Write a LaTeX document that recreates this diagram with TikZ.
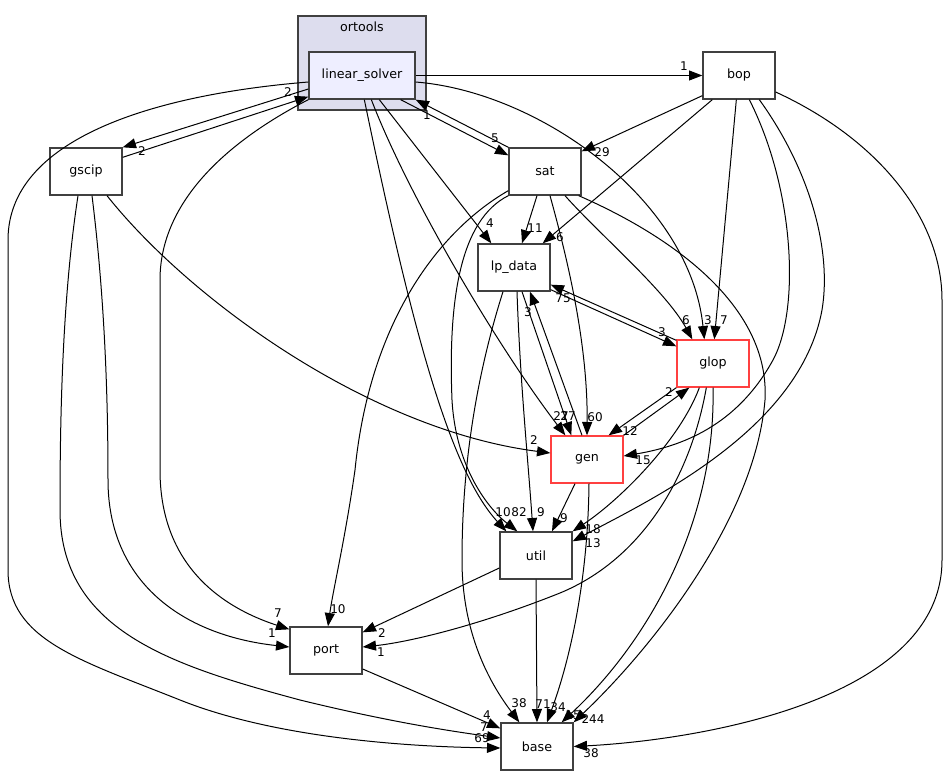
\documentclass[tikz,border=0pt]{standalone}
\usepackage{fontspec}
\setmainfont{DejaVu Sans}
\usetikzlibrary{arrows.meta}
\definecolor{boxgray}{HTML}{404040}
\definecolor{boxred}{HTML}{FF4040}
\definecolor{clusterfill}{HTML}{DDDDEE}
\definecolor{lsfill}{HTML}{EEEEFF}

\begin{document}
\begin{tikzpicture}[x=0.75pt,y=-0.75pt,>={Triangle[length=10pt,width=7.5pt]}]
                \tikzstyle{dirbox}=[draw=boxgray,line width=1pt,fill=white,minimum width=54pt,minimum height=35.25pt,inner sep=0pt,font=\fontsize{9.5}{11}\selectfont]
                \tikzstyle{redbox}=[dirbox,draw=boxred]
                \tikzstyle{dep}=[->,line width=0.75pt]
                \tikzstyle{cnt}=[inner sep=0pt,font=\fontsize{9}{10}\selectfont]
                \useasboundingbox (0,0) rectangle (947,777);
                \node[draw=boxgray,line width=1pt,fill=clusterfill,minimum width=96pt,minimum height=70.5pt] (ortools) at (362,63) {};
                \node[inner sep=0pt,font=\fontsize{9.5}{11}\selectfont] (ortoolslbl) at (362,27) {ortools};
                \node[dirbox,fill=lsfill,minimum width=79.5pt] (ls) at (362,75.5) {linear\_solver};
                \node[dirbox] (bop) at (739,75.5) {bop};
                \node[dirbox] (gscip) at (86,171.5) {gscip};
                \node[dirbox] (sat) at (545,171.5) {sat};
                \node[dirbox] (lpdata) at (514,267.5) {lp\_data};
                \node[redbox] (glop) at (713,363.5) {glop};
                \node[redbox] (gen) at (587,459.5) {gen};
                \node[dirbox] (util) at (536,555.5) {util};
                \node[dirbox] (port) at (326,650.5) {port};
                \node[dirbox] (base) at (537,746.5) {base};

                \draw[dep] (ls.east) -- (bop.west);
                \draw[dep] ([shift={(0,13.5)}]ls.west) -- (gscip.north east);
                \draw[dep] ([shift={(0,10)}]gscip.north east) -- ([shift={(0,-3)}]ls.south west);
                \draw[dep] ([shift={(-15,0)}]ls.south east) -- ([shift={(0,8)}]sat.north west);
                \draw[dep] (sat.north west) -- (ls.south east);
                \draw[dep] ([shift={(71,0)}]ls.south west) -- ([shift={(14,0)}]lpdata.north west);
                \draw[dep] ([shift={(63,0)}]ls.south west) .. controls (410,200) and (500,350) .. ([shift={(15,0)}]gen.north west);
                \draw[dep] ([shift={(0,6.5)}]ls.east) .. controls (540,92) and (690,200) .. ([shift={(28,0)}]glop.north west);
                \draw[dep] ([shift={(56,0)}]ls.south west) .. controls (412,330) and (450,470) .. ([shift={(7,0)}]util.north west);
                \draw[dep] (ls.south west) .. controls (230,140) and (160,200) .. (160,280) -- (160,470) .. controls (160,560) and (215,605) .. ([shift={(0,3)}]port.north west);
                \draw[dep] ([shift={(0,6.5)}]ls.west) .. controls (150,95) and (8,140) .. (8,240) -- (8,570) .. controls (8,640) and (80,660) .. (180,700) .. controls (280,740) and (420,747) .. ([shift={(0,1.5)}]base.west);

                \draw[dep] ([shift={(21,0)}]gscip.south) .. controls (190,300) and (370,430) .. ([shift={(0,-6.5)}]gen.west);
                \draw[dep] ([shift={(6,0)}]gscip.south) .. controls (105,300) and (108,400) .. (108,480) .. controls (108,580) and (180,635) .. ([shift={(0,-3.5)}]port.west);
                \draw[dep] ([shift={(-8,0)}]gscip.south) .. controls (62,300) and (60,420) .. (60,510) .. controls (60,630) and (170,665) .. (300,700) .. controls (390,722) and (450,731) .. ([shift={(0,-8.5)}]base.west);

                \draw[dep] ([shift={(0,-4)}]bop.south west) -- ([shift={(0,4)}]sat.north east);
                \draw[dep] ([shift={(10,0)}]bop.south west) -- ([shift={(-8,0)}]lpdata.north east);
                \draw[dep] ([shift={(34,0)}]bop.south west) -- ([shift={(38,0)}]glop.north west);
                \draw[dep] ([shift={(47,0)}]bop.south west) .. controls (795,190) and (800,310) .. (773,360) .. controls (740,420) and (690,445) .. ([shift={(0,-3.5)}]gen.east);
                \draw[dep] ([shift={(57,0)}]bop.south west) .. controls (810,170) and (832,250) .. (822,310) .. controls (800,430) and (650,500) .. ([shift={(0,10)}]util.north east);
                \draw[dep] ([shift={(0,16.5)}]bop.east) .. controls (880,140) and (942,220) .. (942,300) -- (942,560) .. controls (942,700) and (700,740) .. (base.east);

                \draw[dep] ([shift={(-8,0)}]sat.south) -- ([shift={(8,0)}]lpdata.north);
                \draw[dep] ([shift={(20,0)}]sat.south) .. controls (600,235) and (665,290) .. ([shift={(16,0)}]glop.north west);
                \draw[dep] ([shift={(5,0)}]sat.south) .. controls (565,250) and (588,340) .. (gen.north);
                \draw[dep] ([shift={(-3,0)}]sat.south east) .. controls (680,240) and (770,310) .. (765,400) .. controls (755,520) and (650,650) .. (base.north east);
                \draw[dep] ([shift={(0,-5)}]sat.south west) .. controls (440,230) and (370,320) .. (355,470) .. controls (345,540) and (333,590) .. ([shift={(2,0)}]port.north);
                \draw[dep] (sat.south west) .. controls (460,220) and (448,300) .. (452,400) .. controls (456,470) and (490,510) .. ([shift={(18,0)}]util.north west);

                \draw[dep] ([shift={(0,-2)}]lpdata.south east) -- ([shift={(0,7)}]glop.north west);
                \draw[dep] ([shift={(8,0)}]lpdata.south) -- ([shift={(21,0)}]gen.north west);
                \draw[dep] ([shift={(3,0)}]lpdata.south) .. controls (520,380) and (528,460) .. ([shift={(-3,0)}]util.north);
                \draw[dep] ([shift={(-11,0)}]lpdata.south) .. controls (475,380) and (462,470) .. (462,560) .. controls (462,640) and (495,690) .. ([shift={(19,0)}]base.north west);

                \draw[dep] ([shift={(0,1)}]glop.north west) -- ([shift={(0,-7)}]lpdata.south east);
                \draw[dep] (glop.south west) -- ([shift={(-15,0)}]gen.north east);
                \draw[dep] ([shift={(23,0)}]glop.south west) .. controls (680,440) and (620,500) .. (util.north east);
                \draw[dep] ([shift={(30,0)}]glop.south west) .. controls (690,480) and (640,560) .. (560,593) .. controls (480,625) and (410,642) .. ([shift={(0,-3.5)}]port.east);
                \draw[dep] (glop.south) .. controls (716,520) and (650,640) .. ([shift={(-12,0)}]base.north east);

                \draw[dep] (gen.north east) -- ([shift={(13,0)}]glop.south west);
                \draw[dep] ([shift={(-5,0)}]gen.north) -- ([shift={(16,0)}]lpdata.south);
                \draw[dep] ([shift={(-12,0)}]gen.south) -- ([shift={(16,0)}]util.north);
                \draw[dep] ([shift={(2,0)}]gen.south) .. controls (588,580) and (570,660) .. ([shift={(10,0)}]base.north);

                \draw[dep] ([shift={(0,12.5)}]util.west) -- ([shift={(0,6)}]port.north east);
                \draw[dep] (util.south) -- (base.north);
                \draw[dep] ([shift={(0,18.5)}]port.east) -- ([shift={(0,6)}]base.north west);

                \node[cnt] (ls-bop) at (684,66) {1};
                \node[cnt] (ls-gscip) at (142,151) {2};
                \node[cnt] (gscip-ls) at (288,92) {2};
                \node[cnt] (ls-sat) at (495,138) {5};
                \node[cnt] (sat-ls) at (427,115) {1};
                \node[cnt] (ls-lpdata) at (490,223) {4};
                \node[cnt] (ls-gen) at (561,416) {27};
                \node[cnt] (lpdata-gen) at (568,416) {27};
                \node[cnt] (ls-glop) at (708,320) {3};
                \node[cnt] (ls-util) at (503,512) {10};
                \node[cnt] (sat-util) at (519,512) {82};
                \node[cnt] (ls-port) at (278,613) {7};
                \node[cnt] (ls-base) at (482,738) {69};
                \node[cnt] (gscip-gen) at (534,440) {2};
                \node[cnt] (gscip-port) at (272,633) {1};
                \node[cnt] (gscip-base) at (484,727) {7};
                \node[cnt] (bop-sat) at (602,152) {29};
                \node[cnt] (bop-lpdata) at (560,237) {6};
                \node[cnt] (bop-glop) at (724,320) {7};
                \node[cnt] (bop-gen) at (643,460) {15};
                \node[cnt] (bop-util) at (593,543) {13};
                \node[cnt] (bop-base) at (591,753) {38};
                \node[cnt] (sat-lpdata) at (535,228) {11};
                \node[cnt] (sat-glop) at (686,320) {6};
                \node[cnt] (sat-gen) at (595,417) {60};
                \node[cnt] (sat-base) at (593,719) {244};
                \node[cnt] (sat-port) at (338,609) {10};
                \node[cnt] (lpdata-glop) at (662,332) {3};
                \node[cnt] (lpdata-util) at (541,512) {9};
                \node[cnt] (lpdata-base) at (519,703) {38};
                \node[cnt] (glop-lpdata) at (563,298) {75};
                \node[cnt] (glop-gen) at (630,431) {12};
                \node[cnt] (glop-util) at (593,529) {18};
                \node[cnt] (glop-port) at (381,652) {1};
                \node[cnt] (glop-base) at (573,715) {15};
                \node[cnt] (gen-glop) at (669,392) {2};
                \node[cnt] (gen-lpdata) at (528,312) {3};
                \node[cnt] (gen-util) at (564,518) {9};
                \node[cnt] (gen-base) at (558,707) {34};
                \node[cnt] (util-port) at (382,633) {2};
                \node[cnt] (util-base) at (543,704) {71};
                \node[cnt] (port-base) at (487,715) {4};
            \end{tikzpicture}
\end{document}
